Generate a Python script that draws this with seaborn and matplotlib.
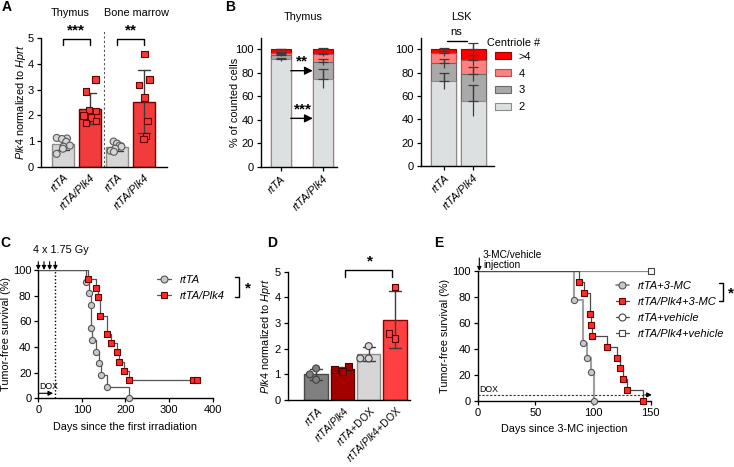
import numpy as np
import pandas as pd
import matplotlib
matplotlib.use("Agg")
import matplotlib.pyplot as plt
import seaborn as sns
from matplotlib.lines import Line2D
from matplotlib.patches import Patch

np.random.seed(7)

# ---------------- data ----------------
# Panel A : Plk4 expression (normalized to Hprt)
a_groups = ["Thymus rtTA", "Thymus rtTA/Plk4", "BM rtTA", "BM rtTA/Plk4"]
a_ticklabels = ["rtTA", "rtTA/Plk4", "rtTA", "rtTA/Plk4"]
a_thy_rtta = [1.12, 1.10, 1.08, 0.97, 0.82, 0.78, 0.70, 0.50]
a_thy_plk4 = [3.40, 2.93, 2.20, 2.18, 2.00, 1.92, 1.78, 1.70]
a_bm_rtta = [0.98, 0.90, 0.82, 0.78, 0.70, 0.62, 0.58]
a_bm_plk4 = [4.40, 3.40, 3.17, 2.69, 1.78, 1.19, 1.09]

# Panel B : centriole numbers (% of counted cells), mean and SD
b_cats = ["2", "3", "4", ">4"]
b_groups = ["rtTA", "rtTA/Plk4"]
b_thy_rtta_mean = [91.5, 3.6, 2.0, 2.9]
b_thy_rtta_sd = [1.5, 1.0, 0.8, 0.5]
b_thy_plk4_mean = [75.0, 14.5, 6.2, 4.3]
b_thy_plk4_sd = [8.0, 2.5, 1.5, 1.5]
b_lsk_rtta_mean = [73.0, 15.0, 8.5, 3.5]
b_lsk_rtta_sd = [7.0, 4.0, 2.0, 1.5]
b_lsk_plk4_mean = [56.0, 23.0, 11.5, 9.5]
b_lsk_plk4_sd = [13.0, 6.0, 5.0, 5.0]

# Panel C : tumor-free survival after irradiation
c_rtta_days = [109, 117, 120, 122, 124, 132, 140, 144, 158, 209]
c_rtta_surv = [90.9, 81.8, 72.7, 54.5, 45.5, 36.4, 27.3, 18.2, 9.1, 0.0]
c_plk4_days = [115, 132, 138, 142, 158, 166, 181, 186, 197, 209]
c_plk4_surv = [92.9, 85.7, 78.6, 64.3, 50.0, 42.9, 35.7, 28.6, 21.4, 14.3]
c_plk4_cens_days = [355, 363]
c_plk4_cens_surv = [14.3, 14.3]
c_irr_days = [0, 13, 26, 39]
c_dox_end = 39

# Panel D : Plk4 expression +/- DOX
d_groups = ["rtTA", "rtTA/Plk4", "rtTA+DOX", "rtTA/Plk4+DOX"]
d_rtta = [1.23, 1.00, 0.79]
d_plk4 = [1.30, 1.20, 1.10]
d_rtta_dox = [2.10, 1.62, 1.62]
d_plk4_dox = [4.40, 2.60, 2.40]

# Panel E : tumor-free survival after 3-MC injection
e_rtta_days = [83.5, 91.6, 95.1, 98.0, 101.2]
e_rtta_surv = [77.8, 44.4, 33.3, 22.2, 0.0]
e_plk4_days = [88.0, 92.2, 97.4, 98.0, 99.1, 112.4, 121.1, 123.4, 125.8, 129.2, 143.0]
e_plk4_surv = [91.7, 83.3, 66.7, 58.3, 50.0, 41.7, 33.3, 25.0, 16.7, 8.3, 0.0]
e_veh_days = [150]
e_veh_surv = [100.0]

# ---------------- style ----------------
sns.set_theme(style="ticks")
plt.rcParams["font.family"] = ["Liberation Sans", "DejaVu Sans"]
plt.rcParams.update({
    "font.size": 7.8,
    "axes.linewidth": 1.0,
    "xtick.major.width": 0.9, "ytick.major.width": 0.9,
    "xtick.major.size": 3, "ytick.major.size": 3,
    "xtick.major.pad": 2, "ytick.major.pad": 2,
    "xtick.labelsize": 8, "ytick.labelsize": 8,
    "axes.labelsize": 7.8,
    "mathtext.fontset": "custom",
    "mathtext.rm": "Liberation Sans",
    "mathtext.it": "Liberation Sans:italic",
    "mathtext.bf": "Liberation Sans:bold",
    "axes.edgecolor": "black",
    "xtick.color": "black", "ytick.color": "black",
    "text.color": "black", "axes.labelcolor": "black",
})

W, H = 734, 467
fig = plt.figure(figsize=(W / 100, H / 100), dpi=100)


def rect(x0, y0, x1, y1):
    return [x0 / W, 1 - y1 / H, (x1 - x0) / W, (y1 - y0) / H]


def ftext(x, y, s, **kw):
    fig.text(x / W, 1 - y / H, s, **kw)


def fline(xs, ys, **kw):
    fig.add_artist(Line2D([x / W for x in xs], [1 - y / H for y in ys],
                          transform=fig.transFigure, **kw))


GREY = "#d6d6d6"
RED = "#f23c3c"
star_kw = dict(ha="center", va="center", fontsize=11, fontweight="bold")

# ================= Panel A =================
axA = fig.add_axes(rect(41, 38.3, 167, 166.7))
dfA = pd.DataFrame({
    "group": np.repeat(a_groups, [len(a_thy_rtta), len(a_thy_plk4), len(a_bm_rtta), len(a_bm_plk4)]),
    "val": np.concatenate([a_thy_rtta, a_thy_plk4, a_bm_rtta, a_bm_plk4]),
})
a_fill = {a_groups[0]: GREY, a_groups[1]: RED, a_groups[2]: GREY, a_groups[3]: RED}
a_edge = ["#8c8c8c", "#7a0000", "#8c8c8c", "#7a0000"]
sns.barplot(data=dfA, x="group", y="val", hue="group", order=a_groups, hue_order=a_groups,
            palette=a_fill, saturation=1, errorbar="sd", capsize=0.45, width=0.82,
            err_kws={"color": "#3c3c3c", "linewidth": 1.0}, linewidth=1.0,
            legend=False, ax=axA)
for p, ec in zip(axA.patches, a_edge):
    p.set_edgecolor(ec)
sub = dfA[dfA.group.isin([a_groups[0], a_groups[2]])]
sns.stripplot(data=sub, x="group", y="val", hue="group", order=a_groups, hue_order=a_groups,
              palette=a_fill, marker="o", size=5, linewidth=0.8, edgecolor="#5a5a5a",
              jitter=0.27, legend=False, ax=axA, zorder=4)
sub = dfA[dfA.group.isin([a_groups[1], a_groups[3]])]
sns.stripplot(data=sub, x="group", y="val", hue="group", order=a_groups, hue_order=a_groups,
              palette=a_fill, marker="s", size=4.6, linewidth=0.8, edgecolor="#6a0000",
              jitter=0.25, legend=False, ax=axA, zorder=4)
axA.set_ylim(0, 5)
axA.set_xlim(-0.81, 3.85)
axA.set_yticks([0, 1, 2, 3, 4, 5])
axA.set_xticks(range(4))
axA.set_xticklabels(a_ticklabels, rotation=45, ha="right", rotation_mode="anchor", style="italic")
axA.tick_params(axis="x", length=0, pad=4)
axA.set_xlabel("")
axA.set_ylabel(r"$\mathit{Plk4}$ normalized to $\mathit{Hprt}$", va="center")
axA.yaxis.set_label_coords(-0.16, 0.5)
sns.despine(ax=axA)
axA.plot([1.52, 1.52], [0, 5.3], ls=(0, (2, 2)), color="#555555", lw=0.8, clip_on=False)
for x0, x1, s in [(0, 1, "***"), (2, 3, "**")]:
    axA.plot([x0, x0, x1, x1], [4.72, 4.98, 4.98, 4.72], color="black", lw=1.0, clip_on=False)
    axA.text((x0 + x1) / 2, 5.3, s, **star_kw)
ftext(70, 13, "Thymus", ha="center", va="center")
ftext(137, 13, "Bone marrow", ha="center", va="center")

# ================= Panel B =================
b_fill = {"2": "#dde0e1", "3": "#a9a9a9", "4": "#ff8080", ">4": "#ff0000"}
b_edge = {"2": "#8a8a8a", "3": "#6a6a6a", "4": "#b05050", ">4": "#a00000"}


def stacked(ax, m1, s1, m2, s2, width):
    df = pd.DataFrame({"group": np.repeat(b_groups, len(b_cats)),
                       "cat": b_cats * 2,
                       "mean": m1 + m2, "sd": s1 + s2})
    df["cum"] = df.groupby("group", sort=False)["mean"].cumsum()
    for cat in reversed(b_cats):
        sub = df[df.cat == cat]
        sns.barplot(data=sub, x="group", y="cum", order=b_groups, color=b_fill[cat],
                    saturation=1, width=width, edgecolor=b_edge[cat], linewidth=0.8,
                    errorbar=None, ax=ax)
    for cat in b_cats:
        sub = df[df.cat == cat]
        xpos = [b_groups.index(g) for g in sub.group]
        ax.errorbar(xpos, sub.cum, yerr=[sub.sd, sub.sd], fmt="none", ecolor="#3c3c3c",
                    elinewidth=0.9, capsize=0, zorder=5)
        ax.errorbar(xpos, sub.cum, yerr=[np.zeros(len(sub)), sub.sd], fmt="none",
                    ecolor="#3c3c3c", elinewidth=0.9, capsize=3.5, capthick=0.9, zorder=5)
    ax.set_ylim(0, 109.4)
    ax.set_yticks([0, 20, 40, 60, 80, 100])
    ax.set_xticks([0, 1])
    ax.set_xticklabels(b_groups, rotation=45, ha="right", rotation_mode="anchor", style="italic")
    ax.set_xlabel("")
    ax.set_ylabel("")
    sns.despine(ax=ax)


axB1 = fig.add_axes(rect(260.7, 38.3, 336.7, 166.7))
stacked(axB1, b_thy_rtta_mean, b_thy_rtta_sd, b_thy_plk4_mean, b_thy_plk4_sd, 0.476)
axB1.set_xlim(-0.476, 1.33)
axB1.set_ylabel("% of counted cells", va="center")
axB1.yaxis.set_label_coords(-0.335, 0.5)
for y, s, sx in [(81.8, "**", 0.5), (41.2, "***", 0.52)]:
    axB1.annotate("", xy=(0.762, y), xytext=(0.238, y),
                  arrowprops=dict(arrowstyle="-|>", color="black", lw=1.0,
                                  mutation_scale=12, shrinkA=0, shrinkB=0))
    axB1.text(sx, y + 7.5, s, **star_kw)
ftext(302.7, 17, "Thymus", ha="center", va="center")

axB2 = fig.add_axes(rect(421, 38.3, 494, 166))
stacked(axB2, b_lsk_rtta_mean, b_lsk_rtta_sd, b_lsk_plk4_mean, b_lsk_plk4_sd, 0.86)
axB2.set_xlim(-0.79, 1.72)
axB2.plot([0.09, 0.78], [107, 107], color="black", lw=1.0, clip_on=False)
axB2.text(0.41, 115, "ns", ha="center", va="center", fontsize=8)
ftext(461.7, 17, "LSK", ha="center", va="center")
ftext(487, 43, "Centriole #", ha="left", va="center")
handles = [Patch(facecolor=b_fill[c], edgecolor=b_edge[c], linewidth=0.8) for c in reversed(b_cats)]
axB2.legend(handles, list(reversed(b_cats)), loc="center left",
            bbox_to_anchor=(495 / W, 1 - 82 / H), bbox_transform=fig.transFigure,
            frameon=False, borderpad=0, borderaxespad=0, handlelength=1.4,
            handleheight=0.6, handletextpad=0.75, labelspacing=0.62, fontsize=8)

# ================= Panel C =================
axC = fig.add_axes(rect(38.3, 270, 212.7, 398.3))
sns.lineplot(x=[0] + c_rtta_days, y=[100.0] + c_rtta_surv, drawstyle="steps-post",
             estimator=None, sort=False, color="#555555", lw=0.9, ax=axC)
sns.lineplot(x=[0] + c_plk4_days + [c_plk4_cens_days[-1]],
             y=[100.0] + c_plk4_surv + [c_plk4_surv[-1]], drawstyle="steps-post",
             estimator=None, sort=False, color="#555555", lw=0.9, ax=axC)
sns.scatterplot(x=c_rtta_days, y=c_rtta_surv, marker="o", s=20, color="#c8c8c8",
                edgecolor="#555555", linewidth=0.8, ax=axC, zorder=4, clip_on=False)
sns.scatterplot(x=c_plk4_days + c_plk4_cens_days, y=c_plk4_surv + c_plk4_cens_surv,
                marker="s", s=20, color="#ff2a2a", edgecolor="#6a0000", linewidth=0.8,
                ax=axC, zorder=4, clip_on=False)
axC.set_xlim(0, 400)
axC.set_ylim(0, 100)
axC.set_xticks([0, 100, 200, 300, 400])
axC.set_yticks([0, 20, 40, 60, 80, 100])
axC.set_xlabel("Days since the first irradiation", va="center")
axC.xaxis.set_label_coords(0.5, -0.221)
axC.set_ylabel("Tumor-free survival (%)", va="center")
axC.yaxis.set_label_coords(-0.185, 0.5)
sns.despine(ax=axC)
axC.plot([c_dox_end, c_dox_end], [0, 100], ls=(0, (1, 1.5)), color="black", lw=1.0)
for d in c_irr_days:
    axC.annotate("", xy=(d, 100), xytext=(d, 106.5), annotation_clip=False,
                 arrowprops=dict(arrowstyle="-|>", color="black", lw=0.8,
                                 mutation_scale=6, shrinkA=0, shrinkB=0))
ftext(33.3, 250, "4 x 1.75 Gy", ha="left", va="center")
axC.text(2, 9, "DOX", ha="left", va="center", fontsize=6.3)
axC.annotate("", xy=(34, 3.9), xytext=(1, 3.9),
             arrowprops=dict(arrowstyle="-|>", color="black", lw=0.8,
                             mutation_scale=7, shrinkA=0, shrinkB=0))
c_handles = [
    Line2D([0], [0], color="#555555", lw=0.9, marker="o", ms=5, mfc="#c8c8c8", mec="#555555", mew=0.8),
    Line2D([0], [0], color="#555555", lw=0.9, marker="s", ms=5, mfc="#ff2a2a", mec="#6a0000", mew=0.8),
]
axC.legend(c_handles, ["rtTA", "rtTA/Plk4"], loc="center left",
           bbox_to_anchor=(156.7 / W, 1 - 288.3 / H), bbox_transform=fig.transFigure,
           frameon=False, borderpad=0, borderaxespad=0, handlelength=1.3,
           handletextpad=0.75, labelspacing=0.55, prop={"style": "italic", "size": 8})
fline([235, 239.3, 239.3, 235], [276.7, 276.7, 296.7, 296.7], color="black", lw=1.0)
ftext(248, 288, "*", **star_kw)

# ================= Panel D =================
axD = fig.add_axes(rect(287.7, 271.7, 410, 400))
dfD = pd.DataFrame({
    "group": np.repeat(d_groups, [len(d_rtta), len(d_plk4), len(d_rtta_dox), len(d_plk4_dox)]),
    "val": np.concatenate([d_rtta, d_plk4, d_rtta_dox, d_plk4_dox]),
})
d_fill = {d_groups[0]: "#808080", d_groups[1]: "#a30000", d_groups[2]: "#d6d6d6", d_groups[3]: "#ff4040"}
d_edge = ["#4a4a4a", "#5a0000", "#8c8c8c", "#900000"]
sns.barplot(data=dfD, x="group", y="val", hue="group", order=d_groups, hue_order=d_groups,
            palette=d_fill, saturation=1, errorbar="sd", capsize=0.45, width=0.89,
            err_kws={"color": "#3c3c3c", "linewidth": 1.0}, linewidth=1.0,
            legend=False, ax=axD)
for p, ec in zip(axD.patches, d_edge):
    p.set_edgecolor(ec)
sub = dfD[dfD.group.isin([d_groups[0], d_groups[2]])]
sns.swarmplot(data=sub, x="group", y="val", hue="group", order=d_groups, hue_order=d_groups,
              palette=d_fill, marker="o", size=5, linewidth=0.8, edgecolor="#404040",
              legend=False, ax=axD, zorder=4)
sub = dfD[dfD.group.isin([d_groups[1], d_groups[3]])]
sns.swarmplot(data=sub, x="group", y="val", hue="group", order=d_groups, hue_order=d_groups,
              palette=d_fill, marker="s", size=4.8, linewidth=0.8, edgecolor="#500000",
              legend=False, ax=axD, zorder=4)
axD.set_ylim(0, 5)
axD.set_xlim(-1.08, 3.57)
axD.set_yticks([0, 1, 2, 3, 4, 5])
axD.set_xticks(range(4))
axD.set_xticklabels([r"$\mathit{rtTA}$", r"$\mathit{rtTA/Plk4}$",
                     r"$\mathit{rtTA}$+DOX", r"$\mathit{rtTA/Plk4}$+DOX"],
                    rotation=45, ha="right", rotation_mode="anchor", fontsize=7.5)
axD.tick_params(axis="x", length=0, pad=3)
axD.set_xlabel("")
axD.set_ylabel(r"$\mathit{Plk4}$ normalized to $\mathit{Hprt}$", va="center")
axD.yaxis.set_label_coords(-0.175, 0.5)
sns.despine(ax=axD)
axD.plot([1.1, 1.1, 2.9, 2.9], [4.8, 5.07, 5.07, 4.8], color="black", lw=1.0, clip_on=False)
axD.text(2.05, 5.4, "*", **star_kw)

# ================= Panel E =================
axE = fig.add_axes(rect(477.7, 271, 650.7, 400.7))
sns.lineplot(x=[0] + e_veh_days, y=[100.0] + e_veh_surv, estimator=None, sort=False,
             color="#8a8a8a", lw=0.9, ax=axE)
sns.lineplot(x=[0] + e_rtta_days, y=[100.0] + e_rtta_surv, drawstyle="steps-post",
             estimator=None, sort=False, color="#a0a0a0", lw=1.5, ax=axE)
sns.lineplot(x=[0] + e_plk4_days, y=[100.0] + e_plk4_surv, drawstyle="steps-post",
             estimator=None, sort=False, color="#4a4a4a", lw=0.9, ax=axE)
sns.scatterplot(x=e_veh_days, y=e_veh_surv, marker="o", s=16, color="white",
                edgecolor="#444444", linewidth=0.8, ax=axE, zorder=4, clip_on=False)
sns.scatterplot(x=e_veh_days, y=e_veh_surv, marker="s", s=16, color="white",
                edgecolor="#444444", linewidth=0.8, ax=axE, zorder=5, clip_on=False)
sns.scatterplot(x=e_rtta_days, y=e_rtta_surv, marker="o", s=20, color="#c8c8c8",
                edgecolor="#555555", linewidth=0.8, ax=axE, zorder=4, clip_on=False)
sns.scatterplot(x=e_plk4_days, y=e_plk4_surv, marker="s", s=20, color="#ff2a2a",
                edgecolor="#6a0000", linewidth=0.8, ax=axE, zorder=5, clip_on=False)
axE.set_xlim(0, 150)
axE.set_ylim(0, 100)
axE.set_xticks([0, 50, 100, 150])
axE.set_yticks([0, 20, 40, 60, 80, 100])
axE.set_xlabel("Days since 3-MC injection", va="center")
axE.xaxis.set_label_coords(0.5, -0.218)
axE.set_ylabel("Tumor-free survival (%)", va="center")
axE.yaxis.set_label_coords(-0.189, 0.5)
sns.despine(ax=axE)
axE.plot([0, 146], [4.5, 4.5], ls=(0, (2, 1.5)), color="#333333", lw=0.8)
axE.annotate("", xy=(151, 4.5), xytext=(145, 4.5), annotation_clip=False,
             arrowprops=dict(arrowstyle="-|>", color="black", lw=0.8,
                             mutation_scale=7, shrinkA=0, shrinkB=0))
axE.text(1.5, 9, "DOX", ha="left", va="center", fontsize=6.3)
axE.annotate("", xy=(1.4, 100), xytext=(1.4, 110), annotation_clip=False,
             arrowprops=dict(arrowstyle="-|>", color="black", lw=0.8,
                             mutation_scale=6, shrinkA=0, shrinkB=0))
ftext(483, 250.5, "3-MC/vehicle\ninjection", ha="left", va="top", fontsize=7.3, linespacing=1.0)
e_handles = [
    Line2D([0], [0], color="#808080", lw=1.2, marker="o", ms=5, mfc="#c8c8c8", mec="#555555", mew=0.8),
    Line2D([0], [0], color="#4a4a4a", lw=0.9, marker="s", ms=5, mfc="#ff2a2a", mec="#6a0000", mew=0.8),
    Line2D([0], [0], color="#4a4a4a", lw=0.9, marker="o", ms=5, mfc="white", mec="#444444", mew=0.8),
    Line2D([0], [0], color="#4a4a4a", lw=0.9, marker="s", ms=5, mfc="white", mec="#444444", mew=0.8),
]
axE.legend(e_handles, ["rtTA+3-MC", "rtTA/Plk4+3-MC", "rtTA+vehicle", "rtTA/Plk4+vehicle"],
           loc="center left", bbox_to_anchor=(616 / W, 1 - 309.7 / H),
           bbox_transform=fig.transFigure, frameon=False, borderpad=0, borderaxespad=0,
           handlelength=1.15, handletextpad=0.8, labelspacing=0.55,
           prop={"style": "italic", "size": 8})
fline([719, 723.3, 723.3, 719], [282.7, 282.7, 300.7, 300.7], color="black", lw=1.0)
ftext(730.5, 293, "*", **star_kw)

# ---------------- panel letters ----------------
for x, y, s in [(2, 7, "A"), (225, 7, "B"), (0, 243, "C"), (267, 243, "D"), (434, 243, "E")]:
    ftext(x, y, s, ha="left", va="center", fontsize=10, fontweight="bold")

fig.savefig("out.png", dpi=100)
